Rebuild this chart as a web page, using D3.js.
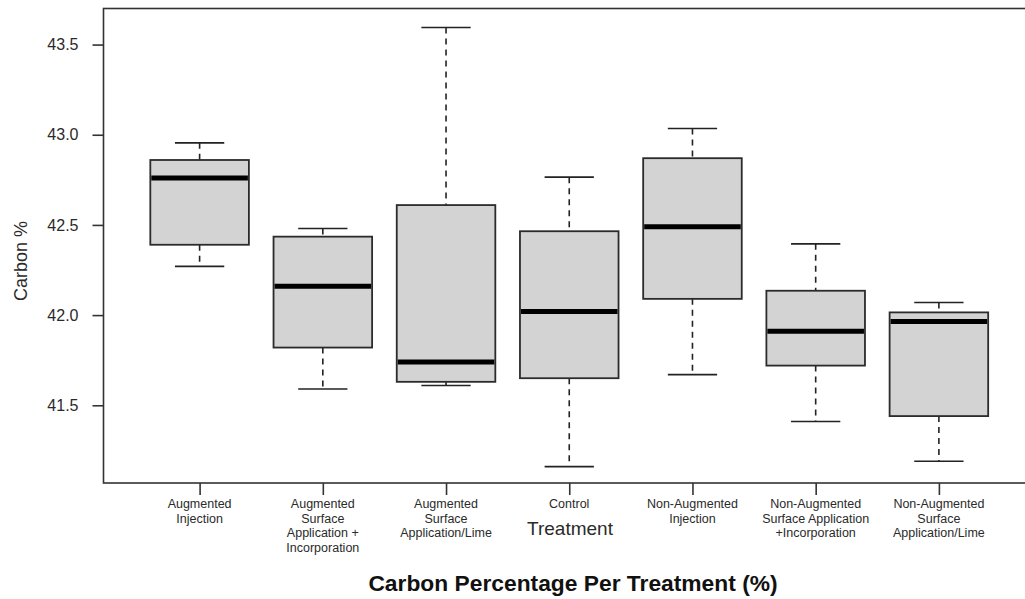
<!DOCTYPE html>
<html>
<head>
<meta charset="utf-8">
<script src="https://cdn.jsdelivr.net/npm/d3@7"></script>
<style>
  html, body { margin: 0; padding: 0; background: #fff; }
  svg { display: block; font-family: "Liberation Sans", Arial, sans-serif; }
</style>
</head>
<body>
<svg id="chart" width="1025" height="599"></svg>
<script>
// Treatments (tick labels split into lines)
const categories = [
  ["Augmented", "Injection"],
  ["Augmented", "Surface", "Application +", "Incorporation"],
  ["Augmented", "Surface", "Application/Lime"],
  ["Control"],
  ["Non-Augmented", "Injection"],
  ["Non-Augmented", "Surface Application", "+Incorporation"],
  ["Non-Augmented", "Surface", "Application/Lime"]
];

// Five-number summaries of carbon % per treatment
const whiskerLow  = [42.27, 41.59, 41.61, 41.16, 41.67, 41.41, 41.19];
const q1          = [42.39, 41.82, 41.63, 41.65, 42.09, 41.72, 41.44];
const medians     = [42.76, 42.16, 41.74, 42.02, 42.49, 41.91, 41.965];
const q3          = [42.86, 42.435, 42.61, 42.465, 42.87, 42.135, 42.015];
const whiskerHigh = [42.955, 42.48, 43.595, 42.765, 43.035, 42.395, 42.07];

const yTicks = [41.5, 42.0, 42.5, 43.0, 43.5];

const svg = d3.select("#chart");

const plot = { left: 103.5, right: 1035, top: 8.5, bottom: 483 };

// Positions 1..n with R-style padding around the boxes
const x = d3.scaleLinear().domain([0.22, 7.78]).range([plot.left, plot.right]);
const y = d3.scaleLinear().domain([41.069, 43.70]).range([plot.bottom, plot.top]);

const unit = x(2) - x(1);
const boxW = unit * 0.8;
const capW = boxW * 0.5;

const data = categories.map((c, i) => ({
  idx: i + 1,
  label: c,
  lo: whiskerLow[i], q1: q1[i], med: medians[i], q3: q3[i], hi: whiskerHigh[i]
}));

const g = svg.append("g");

const box = g.selectAll("g.box").data(data).enter().append("g").attr("class", "box");

// dashed whiskers
box.append("line")
  .attr("x1", d => x(d.idx)).attr("x2", d => x(d.idx))
  .attr("y1", d => y(d.hi)).attr("y2", d => y(d.q3))
  .attr("stroke", "#222").attr("stroke-width", 1.6).attr("stroke-dasharray", "6,5");
box.append("line")
  .attr("x1", d => x(d.idx)).attr("x2", d => x(d.idx))
  .attr("y1", d => y(d.q1)).attr("y2", d => y(d.lo))
  .attr("stroke", "#222").attr("stroke-width", 1.6).attr("stroke-dasharray", "6,5");

// staples
box.append("line")
  .attr("x1", d => x(d.idx) - capW / 2).attr("x2", d => x(d.idx) + capW / 2)
  .attr("y1", d => y(d.hi)).attr("y2", d => y(d.hi))
  .attr("stroke", "#222").attr("stroke-width", 1.6);
box.append("line")
  .attr("x1", d => x(d.idx) - capW / 2).attr("x2", d => x(d.idx) + capW / 2)
  .attr("y1", d => y(d.lo)).attr("y2", d => y(d.lo))
  .attr("stroke", "#222").attr("stroke-width", 1.6);

// boxes
box.append("rect")
  .attr("x", d => x(d.idx) - boxW / 2)
  .attr("width", boxW)
  .attr("y", d => y(d.q3))
  .attr("height", d => y(d.q1) - y(d.q3))
  .attr("fill", "#d3d3d3").attr("stroke", "#2b2b2b").attr("stroke-width", 1.8);

// medians
box.append("line")
  .attr("x1", d => x(d.idx) - boxW / 2 + 1).attr("x2", d => x(d.idx) + boxW / 2 - 1)
  .attr("y1", d => y(d.med)).attr("y2", d => y(d.med))
  .attr("stroke", "#000").attr("stroke-width", 5);

// frame
svg.append("rect")
  .attr("x", plot.left).attr("y", plot.top)
  .attr("width", plot.right - plot.left).attr("height", plot.bottom - plot.top)
  .attr("fill", "none").attr("stroke", "#333").attr("stroke-width", 1.6);

// y axis
const yAxis = d3.axisLeft(y).tickValues(yTicks).tickFormat(d3.format(".1f"))
  .tickSize(11).tickPadding(14);
const ya = svg.append("g").attr("transform", `translate(${plot.left},0)`).call(yAxis);
ya.select(".domain").remove();
ya.selectAll(".tick line").attr("stroke", "#333").attr("stroke-width", 1.6);
ya.selectAll(".tick text").attr("fill", "#2a2a2a").attr("font-size", 16)
  .attr("font-family", "Liberation Sans, Arial, sans-serif");

// x axis
const xAxis = d3.axisBottom(x).tickValues(data.map(d => d.idx)).tickFormat("").tickSize(12);
const xa = svg.append("g").attr("transform", `translate(0,${plot.bottom})`).call(xAxis);
xa.select(".domain").remove();
xa.selectAll(".tick line").attr("stroke", "#333").attr("stroke-width", 1.6);

// multi-line category labels
const lab = svg.selectAll("text.cat").data(data).enter().append("text")
  .attr("class", "cat")
  .attr("x", d => x(d.idx))
  .attr("y", 508)
  .attr("text-anchor", "middle")
  .attr("font-size", 12.5)
  .attr("fill", "#2a2a2a");
lab.selectAll("tspan").data(d => d.label.map(t => ({ t, cx: x(d.idx) }))).enter().append("tspan")
  .attr("x", d => d.cx)
  .attr("dy", (d, i) => i === 0 ? 0 : 14.6)
  .text(d => d.t);

// axis titles
svg.append("text")
  .attr("x", 570).attr("y", 535)
  .attr("text-anchor", "middle")
  .attr("font-size", 19)
  .attr("fill", "#2a2a2a")
  .text("Treatment");

svg.append("text")
  .attr("transform", "translate(27,261) rotate(-90)")
  .attr("text-anchor", "middle")
  .attr("font-size", 18)
  .attr("fill", "#2a2a2a")
  .text("Carbon %");

svg.append("text")
  .attr("x", 573).attr("y", 591)
  .attr("text-anchor", "middle")
  .attr("font-size", 22.8)
  .attr("font-weight", "bold")
  .attr("fill", "#111")
  .text("Carbon Percentage Per Treatment (%)");
</script>
</body>
</html>
